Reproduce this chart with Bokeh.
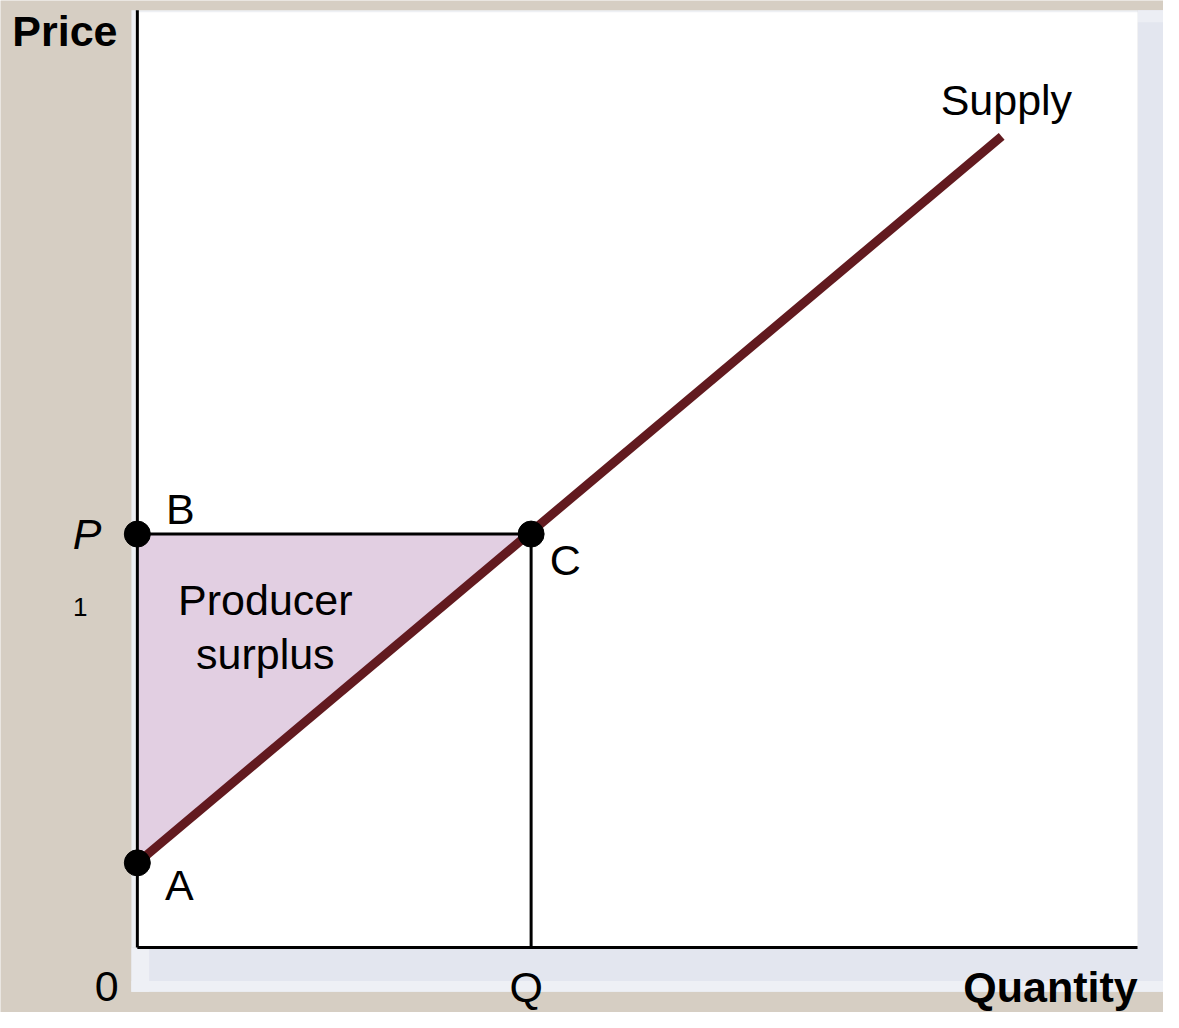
from bokeh.plotting import figure
from bokeh.models import Range1d, Label
from bokeh.embed import file_html
from bokeh.resources import INLINE

# ---- data (schematic units) ----
x_axis_end = 10.16          # end of quantity axis
y_axis_end = 9.52           # end of price axis
P1 = 4.2                    # market price
Q = 4.0                     # quantity supplied
supply_x = [0.0, 8.78]      # supply curve endpoints
supply_y = [0.86, 8.24]
point_names = ["A", "B", "C"]
point_x = [0.0, 0.0, Q]
point_y = [0.86, P1, P1]

BEIGE = "#d6cec3"
SHADOW = "#e3e6ef"
FONT = "Liberation Sans"
W, H = 1163, 1012
PPU = H / 10.28            # pixels per data unit
X0, Y0 = -1.39, -0.66
X1, Y1 = X0 + W / PPU, Y0 + H / PPU
TXT_SHIFT = 16 / PPU       # compensate text baseline rendering

p = figure(width=W, height=H,
           x_range=Range1d(X0, X1), y_range=Range1d(Y0, Y1),
           output_backend="svg", toolbar_location=None,
           x_axis_location=None, y_axis_location=None, min_border=0)
p.grid.visible = False
p.outline_line_color = None
p.background_fill_color = BEIGE
p.border_fill_color = BEIGE

# panel shadow (right + bottom)
p.quad(left=[x_axis_end], right=[X1], bottom=[-0.45], top=[y_axis_end],
       fill_color=SHADOW, line_color=None)
p.quad(left=[x_axis_end], right=[X1], bottom=[y_axis_end - 0.12], top=[y_axis_end],
       fill_color="#eceef4", line_color=None)
p.quad(left=[-0.06], right=[X1], bottom=[-0.45], top=[0.0],
       fill_color=SHADOW, line_color=None)
p.quad(left=[-0.06], right=[X1], bottom=[-0.45], top=[-0.34],
       fill_color="#eef0f5", line_color=None)
p.quad(left=[-0.06], right=[0.12], bottom=[-0.45], top=[0.0],
       fill_color="#eef0f5", line_color=None)
# white panel
p.quad(left=[-0.06], right=[x_axis_end], bottom=[0.0], top=[y_axis_end],
       fill_color="#eef0f4", line_color=None)
p.quad(left=[-0.02], right=[x_axis_end], bottom=[0.0], top=[y_axis_end - 0.02],
       fill_color="white", line_color=None)

# producer surplus triangle
p.patch(x=[point_x[0], point_x[1], point_x[2]], y=[point_y[0], point_y[1], point_y[2]],
        fill_color="#e2cfe2", line_color=None)

# price and quantity guide lines
p.line(x=[0, Q], y=[P1, P1], line_color="black", line_width=3)
p.line(x=[Q, Q], y=[0, P1], line_color="black", line_width=3)

# axes
p.line(x=[0, 0], y=[0, y_axis_end], line_color="black", line_width=3)
p.line(x=[0, x_axis_end], y=[0, 0], line_color="black", line_width=3)

# supply curve
p.line(x=supply_x, y=supply_y, line_color="#621a1f", line_width=9)

# points
p.scatter(x=point_x, y=point_y, size=26, color="black")

def lab(text, x, y, size="43px", align="left", style="normal"):
    p.add_layout(Label(x=x, y=y + TXT_SHIFT, text=text, text_font=FONT,
                       text_font_size=size, text_align=align,
                       text_baseline="alphabetic",
                       text_font_style=style, text_color="black"))

lab("Price", -1.27, 9.15, style="bold")
lab("Quantity", 8.39, -0.56, style="bold")
lab("Supply", 8.16, 8.45)
lab("B", 0.29, 4.29)
lab("C", 4.19, 3.77)
lab("A", 0.28, 0.47)
lab("Producer", 1.30, 3.37, align="center")
lab("surplus", 1.30, 2.82, align="center")
lab("P", -0.51, 4.04, align="center", style="italic")
lab("1", -0.58, 3.30, size="26px", align="center")
lab("0", -0.31, -0.56, align="center")
lab("Q", 3.95, -0.56, align="center")

open("out.html", "w").write(file_html(p, INLINE))
